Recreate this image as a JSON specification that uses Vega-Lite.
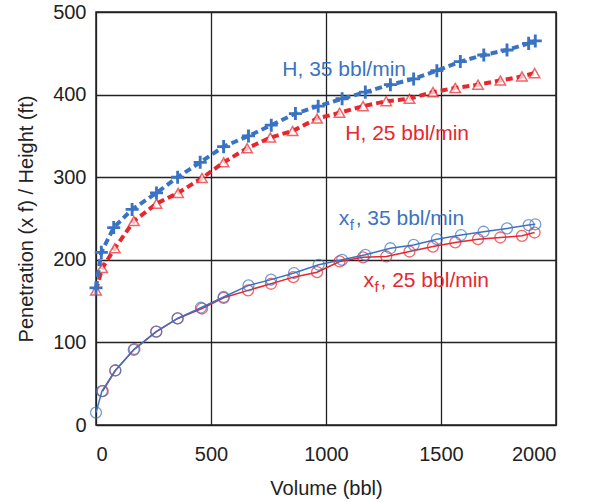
{
  "$schema": "https://vega.github.io/schema/vega-lite/v6.json",
  "autosize": "none",
  "width": 460,
  "height": 413,
  "padding": {"left": 96, "top": 12, "right": 36, "bottom": 77},
  "background": "white",
  "config": {
    "font": "Liberation Sans",
    "view": {"stroke": "#222", "strokeWidth": 1.5},
    "axis": {
      "grid": true, "gridColor": "#222", "gridWidth": 1.3, "gridOpacity": 1,
      "domain": false, "ticks": false,
      "labelFont": "Liberation Sans", "labelFontSize": 20, "labelColor": "#222",
      "titleFont": "Liberation Sans", "titleFontSize": 20, "titleFontWeight": "normal", "titleColor": "#222"
    }
  },
  "datasets": {
    "pts": [
      {"s": "H35", "v": 0, "y": 166}, {"s": "H35", "v": 23, "y": 209}, {"s": "H35", "v": 77, "y": 239}, {"s": "H35", "v": 157, "y": 261}, {"s": "H35", "v": 263, "y": 281}, {"s": "H35", "v": 355, "y": 300}, {"s": "H35", "v": 453, "y": 318}, {"s": "H35", "v": 555, "y": 337}, {"s": "H35", "v": 663, "y": 350}, {"s": "H35", "v": 762, "y": 363}, {"s": "H35", "v": 867, "y": 377}, {"s": "H35", "v": 966, "y": 386}, {"s": "H35", "v": 1070, "y": 395}, {"s": "H35", "v": 1171, "y": 403}, {"s": "H35", "v": 1280, "y": 412}, {"s": "H35", "v": 1381, "y": 419}, {"s": "H35", "v": 1482, "y": 429}, {"s": "H35", "v": 1584, "y": 440}, {"s": "H35", "v": 1686, "y": 448}, {"s": "H35", "v": 1787, "y": 454}, {"s": "H35", "v": 1881, "y": 462}, {"s": "H35", "v": 1910, "y": 465},
      {"s": "H25", "v": 0, "y": 163}, {"s": "H25", "v": 27, "y": 190}, {"s": "H25", "v": 82, "y": 214}, {"s": "H25", "v": 165, "y": 247}, {"s": "H25", "v": 263, "y": 268}, {"s": "H25", "v": 357, "y": 281}, {"s": "H25", "v": 461, "y": 299}, {"s": "H25", "v": 555, "y": 318}, {"s": "H25", "v": 657, "y": 335}, {"s": "H25", "v": 758, "y": 348}, {"s": "H25", "v": 855, "y": 356}, {"s": "H25", "v": 961, "y": 371}, {"s": "H25", "v": 1059, "y": 378}, {"s": "H25", "v": 1161, "y": 386}, {"s": "H25", "v": 1262, "y": 392}, {"s": "H25", "v": 1363, "y": 395}, {"s": "H25", "v": 1465, "y": 403}, {"s": "H25", "v": 1562, "y": 408}, {"s": "H25", "v": 1661, "y": 412}, {"s": "H25", "v": 1758, "y": 417}, {"s": "H25", "v": 1852, "y": 422}, {"s": "H25", "v": 1907, "y": 426},
      {"s": "X35", "v": 0, "y": 15}, {"s": "X35", "v": 26, "y": 41}, {"s": "X35", "v": 84, "y": 66}, {"s": "X35", "v": 164, "y": 91}, {"s": "X35", "v": 262, "y": 113}, {"s": "X35", "v": 355, "y": 129}, {"s": "X35", "v": 456, "y": 142}, {"s": "X35", "v": 555, "y": 155}, {"s": "X35", "v": 663, "y": 169}, {"s": "X35", "v": 761, "y": 176}, {"s": "X35", "v": 861, "y": 184}, {"s": "X35", "v": 968, "y": 194}, {"s": "X35", "v": 1070, "y": 200}, {"s": "X35", "v": 1171, "y": 206}, {"s": "X35", "v": 1280, "y": 214}, {"s": "X35", "v": 1381, "y": 218}, {"s": "X35", "v": 1482, "y": 225}, {"s": "X35", "v": 1587, "y": 230}, {"s": "X35", "v": 1685, "y": 234}, {"s": "X35", "v": 1787, "y": 238}, {"s": "X35", "v": 1881, "y": 242}, {"s": "X35", "v": 1910, "y": 243},
      {"s": "X25", "v": 29, "y": 41}, {"s": "X25", "v": 84, "y": 66}, {"s": "X25", "v": 167, "y": 92}, {"s": "X25", "v": 262, "y": 113}, {"s": "X25", "v": 355, "y": 129}, {"s": "X25", "v": 461, "y": 141}, {"s": "X25", "v": 555, "y": 154}, {"s": "X25", "v": 661, "y": 163}, {"s": "X25", "v": 761, "y": 171}, {"s": "X25", "v": 858, "y": 179}, {"s": "X25", "v": 961, "y": 185}, {"s": "X25", "v": 1059, "y": 198}, {"s": "X25", "v": 1161, "y": 203}, {"s": "X25", "v": 1262, "y": 204}, {"s": "X25", "v": 1363, "y": 210}, {"s": "X25", "v": 1465, "y": 216}, {"s": "X25", "v": 1562, "y": 221}, {"s": "X25", "v": 1661, "y": 225}, {"s": "X25", "v": 1758, "y": 227}, {"s": "X25", "v": 1852, "y": 229}, {"s": "X25", "v": 1907, "y": 233}
    ],
    "labels": [
      {"k": "H35", "v": 810, "y": 422, "t": "H, 35 bbl/min"},
      {"k": "H25", "v": 1084, "y": 345, "t": "H, 25 bbl/min"},
      {"k": "X35", "v": 1055, "y": 242, "t": ", 35 bbl/min"},
      {"k": "X25", "v": 1163, "y": 167, "t": ", 25 bbl/min"}
    ]
  },
  "encoding": {
    "x": {"field": "v", "type": "quantitative", "scale": {"domain": [0, 2000], "nice": false},
      "axis": {"values": [0, 500, 1000, 1500, 2000], "format": "d", "title": "Volume (bbl)", "labelPadding": 19, "titlePadding": 14}},
    "y": {"field": "y", "type": "quantitative", "scale": {"domain": [0, 500], "nice": false},
      "axis": {"values": [0, 100, 200, 300, 400, 500], "title": "Penetration (x f) / Height (ft)", "labelPadding": 10, "titlePadding": 16}}
  },
  "layer": [
    {"data": {"name": "pts"}, "transform": [{"filter": "datum.s === 'X25'"}],
     "mark": {"type": "line", "color": "#e8262d", "strokeWidth": 1.5}},
    {"data": {"name": "pts"}, "transform": [{"filter": "datum.s === 'X25'"}],
     "mark": {"type": "point", "shape": "circle", "filled": false, "color": "#e8262d", "size": 120, "strokeWidth": 1.3}},
    {"data": {"name": "pts"}, "transform": [{"filter": "datum.s === 'X35'"}],
     "mark": {"type": "line", "color": "#3a73c2", "strokeWidth": 1.5}},
    {"data": {"name": "pts"}, "transform": [{"filter": "datum.s === 'X35'"}],
     "mark": {"type": "point", "shape": "circle", "filled": false, "color": "#3a73c2", "size": 120, "strokeWidth": 1.3}},
    {"data": {"name": "pts"}, "transform": [{"filter": "datum.s === 'H25'"}],
     "mark": {"type": "line", "color": "#e8262d", "strokeWidth": 4, "strokeDash": [7, 4]}},
    {"data": {"name": "pts"}, "transform": [{"filter": "datum.s === 'H25'"}],
     "mark": {"type": "point", "shape": "triangle-up", "filled": true, "fill": "white", "stroke": "#e8262d", "size": 110, "strokeWidth": 1.5}},
    {"data": {"name": "pts"}, "transform": [{"filter": "datum.s === 'H35'"}],
     "mark": {"type": "line", "color": "#3a73c2", "strokeWidth": 4, "strokeDash": [7, 4]}},
    {"data": {"name": "pts"}, "transform": [{"filter": "datum.s === 'H35'"}],
     "mark": {"type": "point", "shape": "M-1,-0.22H1V0.22H-1ZM-0.22,-1H0.22V1H-0.22Z", "filled": true, "color": "#3a73c2", "size": 170, "opacity": 1}},
    {"data": {"name": "labels"}, "transform": [{"filter": "datum.k === 'H35'"}],
     "mark": {"type": "text", "align": "left", "baseline": "alphabetic", "fontSize": 21, "color": "#3a73c2"},
     "encoding": {"text": {"field": "t"}}},
    {"data": {"name": "labels"}, "transform": [{"filter": "datum.k === 'H25'"}],
     "mark": {"type": "text", "align": "left", "baseline": "alphabetic", "fontSize": 21, "color": "#e8262d"},
     "encoding": {"text": {"field": "t"}}},
    {"data": {"name": "labels"}, "transform": [{"filter": "datum.k === 'X35'"}],
     "mark": {"type": "text", "align": "left", "baseline": "alphabetic", "fontSize": 21, "color": "#3a73c2", "text": "x"}},
    {"data": {"name": "labels"}, "transform": [{"filter": "datum.k === 'X35'"}],
     "mark": {"type": "text", "align": "left", "baseline": "alphabetic", "fontSize": 15, "color": "#3a73c2", "text": "f", "dx": 11, "dy": 5}},
    {"data": {"name": "labels"}, "transform": [{"filter": "datum.k === 'X35'"}],
     "mark": {"type": "text", "align": "left", "baseline": "alphabetic", "fontSize": 21, "color": "#3a73c2", "dx": 17},
     "encoding": {"text": {"field": "t"}}},
    {"data": {"name": "labels"}, "transform": [{"filter": "datum.k === 'X25'"}],
     "mark": {"type": "text", "align": "left", "baseline": "alphabetic", "fontSize": 21, "color": "#e8262d", "text": "x"}},
    {"data": {"name": "labels"}, "transform": [{"filter": "datum.k === 'X25'"}],
     "mark": {"type": "text", "align": "left", "baseline": "alphabetic", "fontSize": 15, "color": "#e8262d", "text": "f", "dx": 11, "dy": 5}},
    {"data": {"name": "labels"}, "transform": [{"filter": "datum.k === 'X25'"}],
     "mark": {"type": "text", "align": "left", "baseline": "alphabetic", "fontSize": 21, "color": "#e8262d", "dx": 17},
     "encoding": {"text": {"field": "t"}}}
  ]
}
